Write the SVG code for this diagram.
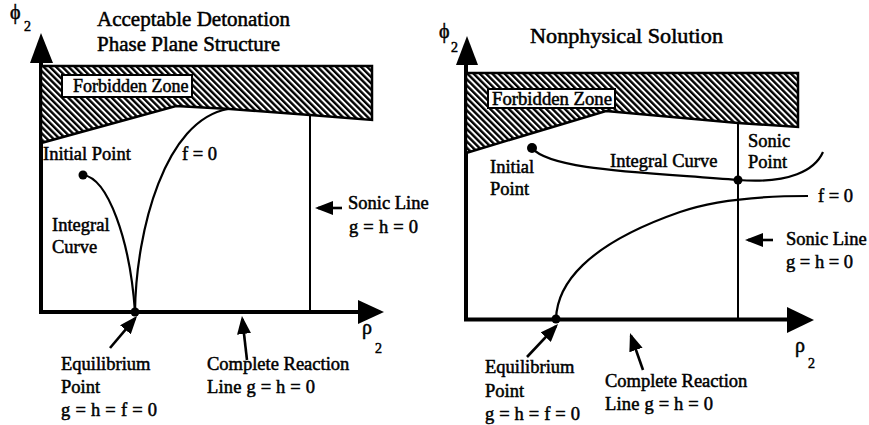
<svg xmlns="http://www.w3.org/2000/svg" width="869" height="425" viewBox="0 0 869 425" font-family="Liberation Serif, DejaVu Serif, serif">
<style>
text{font-family:'Liberation Serif','DejaVu Serif',serif;fill:#000;stroke:#000;stroke-width:0.5}
.t{font-size:18.5px}
.ti{font-size:21px}
.fz{font-size:18px}
.g{font-size:20px}
.s{font-size:14px}
.ax{stroke:#000;stroke-width:4;fill:none}
.cv{stroke:#000;stroke-width:2.2;fill:none}
.sl{stroke:#000;stroke-width:2;fill:none}
.ar{stroke:#000;stroke-width:2.6;fill:none;marker-end:url(#ah)}
.zone{fill:url(#hatch);stroke:#000;stroke-width:2.5}
.box{fill:#fff;stroke:#000;stroke-width:2}
</style>
<defs>
<pattern id="hatch" width="4.4" height="4.4" patternUnits="userSpaceOnUse" patternTransform="rotate(-45)">
<rect width="4.4" height="4.4" fill="#fff"/>
<line x1="1.2" y1="0" x2="1.2" y2="4.4" stroke="#000" stroke-width="2.4"/>
</pattern>
<marker id="ah" markerUnits="userSpaceOnUse" markerWidth="18" markerHeight="14" refX="15" refY="7" orient="auto">
<path d="M0,0 L18,7 L0,14 z" fill="#000"/>
</marker>
</defs>

<g id="left-panel">
  <g id="left-title">
    <text class="ti" x="97" y="26">Acceptable Detonation</text>
    <text class="ti" x="97" y="51">Phase Plane Structure</text>
  </g>
  <g id="left-axes">
    <line class="ax" x1="41" y1="60" x2="41" y2="314"/>
    <polygon points="30,63 41,33 53,63" fill="#000"/>
    <line class="ax" x1="39" y1="312" x2="360" y2="312"/>
    <polygon points="358,300 384,312 358,324" fill="#000"/>
    <text class="g" x="10" y="19">ϕ</text><text class="s" x="24" y="31">2</text>
    <text class="g" x="362" y="334">ρ</text><text class="s" x="375" y="353">2</text>
  </g>
  <g id="left-forbidden-zone">
    <polygon class="zone" points="41,66 372,66 372,120 310,115 230,109 176,106 41,143"/>
    <rect class="box" x="62" y="75" width="130" height="22"/>
    <text class="fz" x="73" y="92">Forbidden Zone</text>
  </g>
  <g id="left-sonic-line">
    <line class="sl" x1="310" y1="115" x2="310" y2="312"/>
  </g>
  <g id="left-f0-curve">
    <path class="cv" d="M135,312 C136,230 165,120 228,109"/>
    <text class="t" x="182" y="160">f = 0</text>
  </g>
  <g id="left-integral-curve">
    <path class="cv" d="M83,175 C108,178 130,240 135,312"/>
    <text class="t" x="52" y="231">Integral</text>
    <text class="t" x="52" y="253">Curve</text>
  </g>
  <g id="left-initial-point">
    <circle cx="83" cy="175" r="4.5" fill="#000"/>
    <text class="t" x="43" y="160">Initial Point</text>
  </g>
  <g id="left-equilibrium-point">
    <circle cx="135" cy="312" r="4.5" fill="#000"/>
    <text class="t" x="61" y="370">Equilibrium</text>
    <text class="t" x="61" y="393">Point</text>
    <text class="t" x="61" y="416" textLength="96" lengthAdjust="spacing">g = h = f = 0</text>
  </g>
  <g id="left-sonic-label">
    <text class="t" x="348" y="209">Sonic Line</text>
    <text class="t" x="349" y="233" textLength="69" lengthAdjust="spacing">g = h = 0</text>
  </g>
  <g id="left-complete-reaction">
    <text class="t" x="207" y="370">Complete Reaction</text>
    <text class="t" x="207" y="393" textLength="108" lengthAdjust="spacing">Line g = h = 0</text>
  </g>
</g>

<g id="right-panel">
  <g id="right-title">
    <text class="ti" x="530" y="43" textLength="193" lengthAdjust="spacingAndGlyphs">Nonphysical Solution</text>
  </g>
  <g id="right-axes">
    <line class="ax" x1="466" y1="60" x2="466" y2="321"/>
    <polygon points="456,65 467,36 478,65" fill="#000"/>
    <line class="ax" x1="464" y1="319.5" x2="790" y2="319.5"/>
    <polygon points="787,307 814,320 787,333" fill="#000"/>
    <text class="g" x="439" y="38">ϕ</text><text class="s" x="451" y="52">2</text>
    <text class="g" x="795" y="352">ρ</text><text class="s" x="808" y="368">2</text>
  </g>
  <g id="right-forbidden-zone">
    <polygon class="zone" points="466,73 798,73 798,127 738,123 606,111 466,153"/>
    <rect class="box" x="488" y="89" width="127" height="19"/>
    <text class="fz" x="492" y="105" textLength="120" lengthAdjust="spacingAndGlyphs">Forbidden Zone</text>
  </g>
  <g id="right-sonic-line">
    <line class="sl" x1="738" y1="123" x2="738" y2="319"/>
  </g>
  <g id="right-integral-curve">
    <path class="cv" d="M532,148 C550,170 640,172 738,180 C790,184 815,170 823,152"/>
    <text class="t" x="610" y="167">Integral Curve</text>
  </g>
  <g id="right-f0-curve">
    <path class="cv" d="M556,319 C557,285 585,245 680,212 C720,198 770,196 808,196"/>
    <text class="t" x="818" y="202">f = 0</text>
  </g>
  <g id="right-initial-point">
    <circle cx="532" cy="148" r="5" fill="#000"/>
    <text class="t" x="490" y="173">Initial</text>
    <text class="t" x="490" y="195">Point</text>
  </g>
  <g id="right-sonic-point">
    <circle cx="738" cy="180" r="4.5" fill="#000"/>
    <text class="t" x="748" y="147">Sonic</text>
    <text class="t" x="748" y="168">Point</text>
  </g>
  <g id="right-equilibrium-point">
    <circle cx="556" cy="319" r="4.5" fill="#000"/>
    <text class="t" x="485" y="373">Equilibrium</text>
    <text class="t" x="485" y="397">Point</text>
    <text class="t" x="485" y="420" textLength="95" lengthAdjust="spacing">g = h = f = 0</text>
  </g>
  <g id="right-sonic-label">
    <text class="t" x="786" y="245">Sonic Line</text>
    <text class="t" x="786" y="268" textLength="67" lengthAdjust="spacing">g = h = 0</text>
  </g>
  <g id="right-complete-reaction">
    <text class="t" x="605" y="387">Complete Reaction</text>
    <text class="t" x="605" y="410" textLength="108" lengthAdjust="spacing">Line g = h = 0</text>
  </g>
</g>

<g id="connectors">
  <line class="ar" x1="110" y1="348" x2="135.1" y2="318.3"/>
  <line class="ar" x1="247" y1="360" x2="242.3" y2="319"/>
  <line class="ar" x1="342" y1="208" x2="318" y2="208"/>
  <line class="ar" x1="527" y1="357" x2="556" y2="326.2"/>
  <line class="ar" x1="643" y1="370" x2="631" y2="335.8"/>
  <line class="ar" x1="773" y1="240" x2="748" y2="240"/>
</g>
</svg>
